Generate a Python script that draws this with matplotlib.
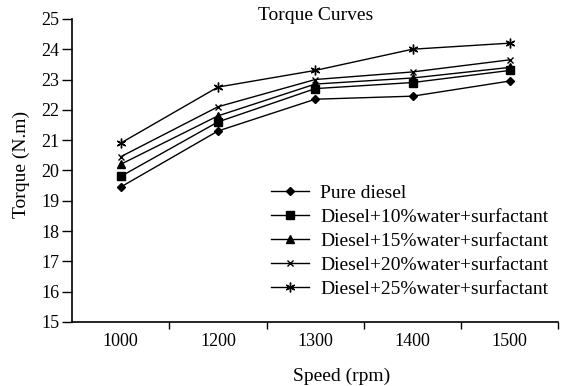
import matplotlib
matplotlib.use("Agg")
import matplotlib.pyplot as plt
import numpy as np

plt.rcParams["font.family"] = ["Liberation Serif", "DejaVu Serif"]

speeds = ["1000", "1200", "1300", "1400", "1500"]
pure_diesel = [19.45, 21.3, 22.35, 22.45, 22.95]
water_10 = [19.8, 21.6, 22.7, 22.9, 23.3]
water_15 = [20.2, 21.8, 22.85, 23.05, 23.4]
water_20 = [20.45, 22.1, 23.0, 23.25, 23.65]
water_25 = [20.9, 22.75, 23.3, 24.0, 24.2]

labels = [
    "Pure diesel",
    "Diesel+10%water+surfactant",
    "Diesel+15%water+surfactant",
    "Diesel+20%water+surfactant",
    "Diesel+25%water+surfactant",
]
series = [pure_diesel, water_10, water_15, water_20, water_25]
markers = ["D", "s", "^", "x", (6, 2, 0)]
msizes = [4, 6, 6, 5, 7]

fig = plt.figure(figsize=(5.65, 3.86), dpi=100)
ax = fig.add_axes([0.1274, 0.166, 0.861, 0.785])

x = np.arange(len(speeds))
for vals, lab, mk, ms in zip(series, labels, markers, msizes):
    ax.plot(x, vals, color="black", linewidth=1.0, marker=mk, markersize=ms,
            markeredgewidth=1.0, label=lab)

ax.set_xlim(-0.5, len(speeds) - 0.5)
ax.set_ylim(15, 25)
ax.set_yticks(range(15, 26))
ax.set_xticks(x)
ax.set_xticklabels(speeds)
ax.set_xticks(np.arange(0.5, len(speeds), 1), minor=True)
ax.tick_params(axis="x", which="major", length=0, pad=8, labelsize=13)
ax.tick_params(axis="x", which="minor", length=5, width=1, direction="out")
ax.tick_params(axis="y", length=7, width=1, direction="out", labelsize=13, pad=2)

for side in ["top", "right"]:
    ax.spines[side].set_visible(False)
ax.spines["left"].set_linewidth(1.2)
ax.spines["bottom"].set_linewidth(1.2)

fig.text(0.605, 0.026, "Speed (rpm)", ha="center", va="center", fontsize=14)
fig.text(0.037, 0.573, "Torque (N.m)", ha="center", va="center", rotation=90, fontsize=14)
fig.text(0.558, 0.959, "Torque Curves", ha="center", va="center", fontsize=14)

ax.legend(loc="lower right", bbox_to_anchor=(0.98, 0.08), frameon=False,
          fontsize=14, handlelength=1.95, handletextpad=0.6, labelspacing=0.33,
          borderaxespad=0, borderpad=0)

fig.savefig("out.png", dpi=100, facecolor="white")
